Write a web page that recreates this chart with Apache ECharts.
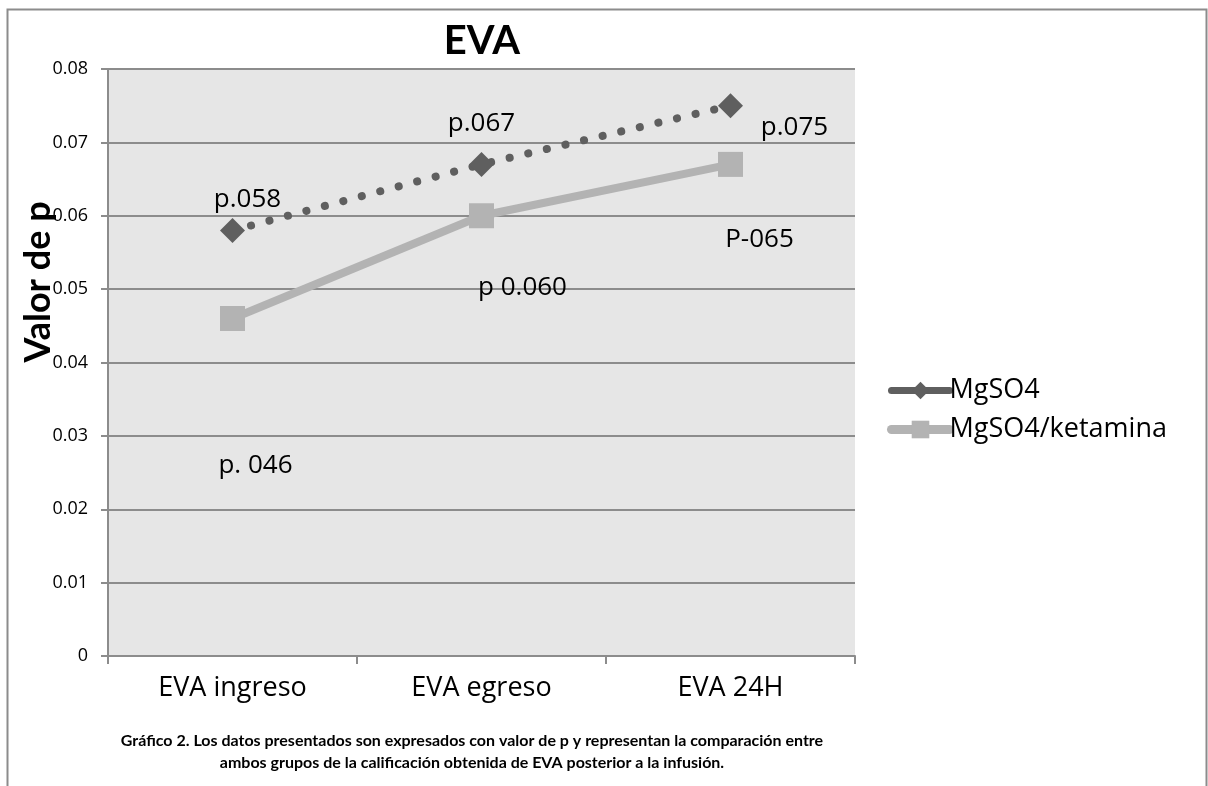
<!DOCTYPE html>
<html>
<head>
<meta charset="utf-8">
<script src="https://cdn.jsdelivr.net/npm/echarts@6/dist/echarts.min.js"></script>
<style>
  html, body { margin: 0; padding: 0; background: #fff; }
  #chart { width: 1208px; height: 786px; }
</style>
</head>
<body>
<div id="chart"></div>
<script>
const categories = ['EVA ingreso', 'EVA egreso', 'EVA 24H'];
const mgso4Values = [0.058, 0.067, 0.075];
const ketaminaValues = [0.046, 0.060, 0.067];
const mgso4Labels = ['p.058', 'p.067', 'p.075'];
const ketaminaLabels = ['p. 046', 'p 0.060', 'P-065'];
const yTicks = [0, 0.01, 0.02, 0.03, 0.04, 0.05, 0.06, 0.07, 0.08];
const seriesNames = ['MgSO4', 'MgSO4/ketamina'];
const titleText = 'EVA';
const yAxisTitle = 'Valor de p';
const captionLines = [
  'Gráfico 2. Los datos presentados son expresados con valor de p y representan la comparación entre',
  'ambos grupos de la calificación obtenida de EVA posterior a la infusión.'
];

const FONT = '"Open Sans", Lato, sans-serif';
const BOLDFONT = 'Lato, "Open Sans", sans-serif';
const DARK = '#5f5f5f';
const LIGHT = '#b3b3b3';
const mgOffsets = [[15, -31], [0, -41], [64, 22]];
const ketOffsets = [[23, 147], [41, 72], [29, 75]];

function buildData(values, labels, offsets) {
  return values.map((v, i) => ({
    value: v,
    label: { show: true, formatter: labels[i], position: 'inside', offset: offsets[i] }
  }));
}

const chart = echarts.init(document.getElementById('chart'), null, { renderer: 'canvas' });
chart.setOption({
  animation: false,
  backgroundColor: '#ffffff',
  title: {
    text: titleText,
    left: 477, top: 16, textAlign: 'center',
    textStyle: { fontFamily: BOLDFONT, fontWeight: 'bold', fontSize: 40, color: '#000' }
  },
  legend: {
    orient: 'vertical',
    left: 882, top: 372,
    itemWidth: 58, itemHeight: 22, itemGap: 12,
    data: [
      { name: seriesNames[0],
        itemStyle: { color: DARK }, lineStyle: { color: DARK, width: 7, type: 'solid', cap: 'round' } },
      { name: seriesNames[1],
        itemStyle: { color: LIGHT }, lineStyle: { color: LIGHT, width: 9, type: 'solid', cap: 'round' } }
    ],
    textStyle: { fontFamily: FONT, fontSize: 27, color: '#000', padding: [0, 0, 0, -5] }
  },
  grid: { left: 108, top: 69, right: 353, bottom: 130, show: true, backgroundColor: '#e6e6e6', borderWidth: 0 },
  xAxis: {
    type: 'category',
    data: categories,
    boundaryGap: true,
    axisLine: { lineStyle: { color: '#8c8c8c', width: 2 } },
    axisTick: { show: true, length: 8, lineStyle: { color: '#8c8c8c', width: 2 } },
    axisLabel: { fontFamily: FONT, fontSize: 27, color: '#000', margin: 19 }
  },
  yAxis: {
    type: 'value',
    min: yTicks[0], max: yTicks[yTicks.length - 1], interval: 0.01,
    axisLine: { show: true, lineStyle: { color: '#8c8c8c', width: 2 } },
    axisTick: { show: true, length: 7, lineStyle: { color: '#8c8c8c', width: 2 } },
    axisLabel: { fontFamily: FONT, fontSize: 18, color: '#000', margin: 20,
      formatter: v => (v === 0 ? '0' : v.toFixed(2)) },
    splitLine: { show: true, lineStyle: { color: '#8c8c8c', width: 2 } }
  },
  series: [
    {
      name: seriesNames[0],
      type: 'line',
      data: buildData(mgso4Values, mgso4Labels, mgOffsets),
      symbol: 'diamond', symbolSize: 25,
      itemStyle: { color: DARK },
      lineStyle: { color: DARK, width: 8, type: [0.1, 19], cap: 'round' },
      label: { fontFamily: FONT, fontSize: 26, color: '#000' },
      z: 3
    },
    {
      name: seriesNames[1],
      type: 'line',
      data: buildData(ketaminaValues, ketaminaLabels, ketOffsets),
      symbol: 'rect', symbolSize: 25,
      itemStyle: { color: LIGHT },
      lineStyle: { color: LIGHT, width: 8 },
      label: { fontFamily: FONT, fontSize: 26, color: '#000' },
      z: 2
    }
  ],
  graphic: [
    {
      type: 'rect', left: 5, top: 7, z: -1, silent: true,
      shape: { width: 1199, height: 800 },
      style: { fill: 'none', stroke: '#8c8c8c', lineWidth: 2 }
    },
    {
      type: 'text', x: 38, y: 282, rotation: Math.PI / 2,
      style: { text: yAxisTitle, fontFamily: BOLDFONT, fontWeight: 'bold', fontSize: 36, fill: '#000',
        textAlign: 'center', textVerticalAlign: 'middle' }
    },
    {
      type: 'text', x: 472, y: 741,
      style: { text: captionLines[0], fontFamily: BOLDFONT, fontWeight: 'bold', fontSize: 16, fill: '#000',
        textAlign: 'center', textVerticalAlign: 'middle' }
    },
    {
      type: 'text', x: 472, y: 763,
      style: { text: captionLines[1], fontFamily: BOLDFONT, fontWeight: 'bold', fontSize: 16, fill: '#000',
        textAlign: 'center', textVerticalAlign: 'middle' }
    }
  ]
});
</script>
</body>
</html>
